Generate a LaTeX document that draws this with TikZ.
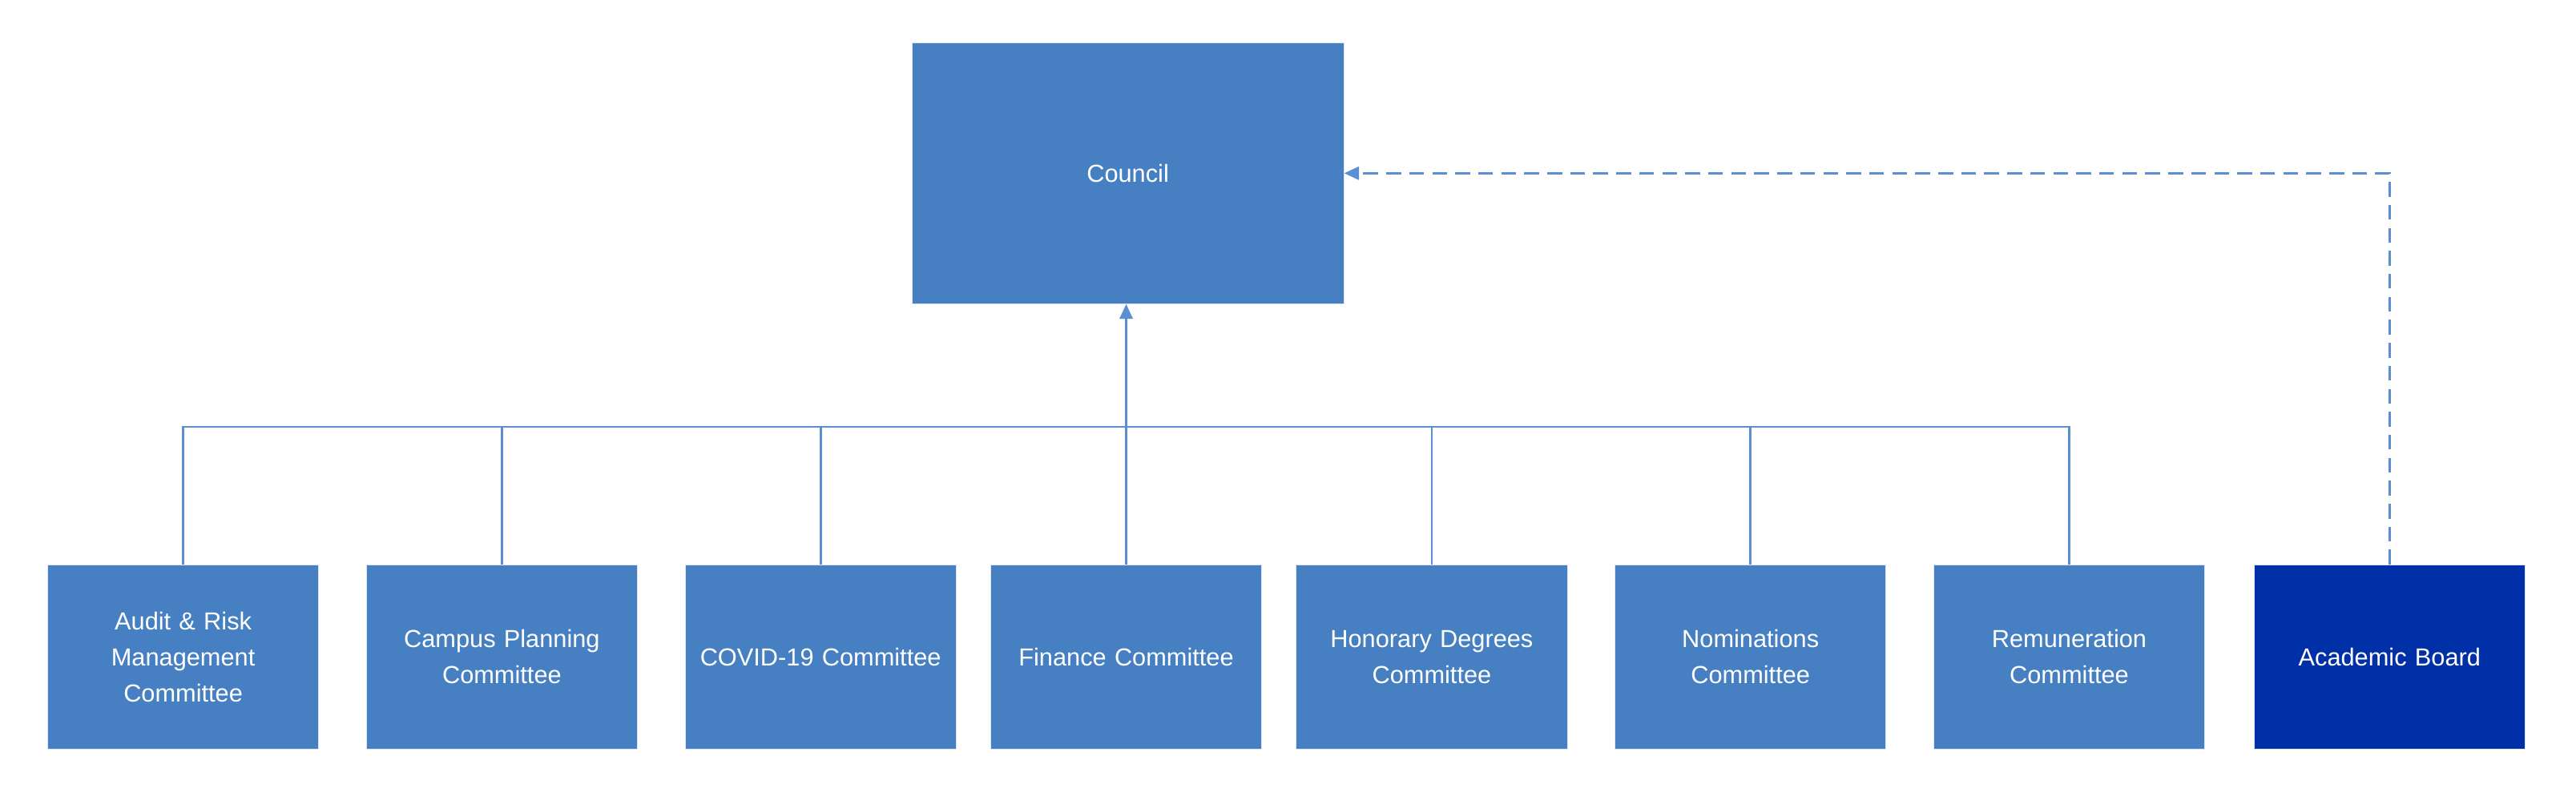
\documentclass[tikz,border=0pt]{standalone}
\usepackage{fontspec}
\setmainfont{Liberation Sans}
\usetikzlibrary{arrows.meta}
\definecolor{boxblue}{HTML}{4680C2}
\definecolor{darkblue}{HTML}{0030A8}
\definecolor{lineblue}{HTML}{5A8FD2}
\begin{document}
\begin{tikzpicture}[x=1pt,y=-1pt,
  cbox/.style={draw=white!80!boxblue,fill=boxblue,text=white,minimum width=165pt,minimum height=112pt,text width=155pt,align=center,inner sep=0pt,font=\fontsize{15}{22}\selectfont},
  conn/.style={draw=lineblue,line width=1.3pt},
  tip/.style={-{Triangle[length=9pt,width=8pt]}}]
\useasboundingbox (0,0) rectangle (1568,487);
\node[cbox,minimum width=263pt,minimum height=159pt] (council) at (686.5,105.5) {Council};
\node[cbox] (a1) at (111.5,400) {Audit \& Risk\\Management\\Committee};
\node[cbox] (a2) at (305.5,400) {Campus Planning\\Committee};
\node[cbox] (a3) at (499.5,400) {COVID-19 Committee};
\node[cbox] (a4) at (685.5,400) {Finance Committee};
\node[cbox] (a5) at (871.5,400) {Honorary Degrees\\Committee};
\node[cbox] (a6) at (1065.5,400) {Nominations\\Committee};
\node[cbox] (a7) at (1259.5,400) {Remuneration\\Committee};
\node[cbox,fill=darkblue] (ab) at (1454.5,400) {Academic Board};
\coordinate (bus) at (685.5,260);
\foreach \i in {1,...,7}{\draw[conn] (a\i.north) |- (bus);}
\draw[conn,tip] (bus) -- (council.south -| bus);
\draw[conn,tip,dash pattern=on 9pt off 5pt] (ab.north) |- (council.east);
\end{tikzpicture}
\end{document}
